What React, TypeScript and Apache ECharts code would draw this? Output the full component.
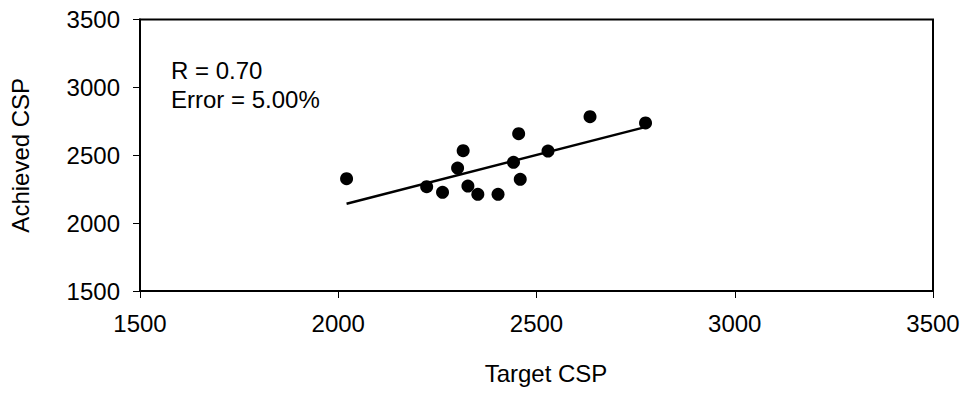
import React, { useEffect, useRef } from "react";
import * as echarts from "echarts";

const targetCSP = [2021, 2223, 2263, 2301, 2315, 2327, 2352, 2403, 2442, 2455, 2459, 2529, 2635, 2775];
const achievedCSP = [2327, 2268, 2227, 2406, 2534, 2273, 2212, 2212, 2448, 2659, 2323, 2531, 2784, 2738];
const trendX = [2021, 2774];
const trendY = [2143, 2707];
const annotations = ["R = 0.70", "Error = 5.00%"];

const FONT = "'Liberation Sans', Arial, sans-serif";

export default function App() {
  const ref = useRef<HTMLDivElement>(null);
  useEffect(() => {
    if (!ref.current) return;
    const chart = echarts.init(ref.current, null, { renderer: "svg" });
    const points = targetCSP.map((x, i) => [x, achievedCSP[i]]);
    const trend = trendX.map((x, i) => [x, trendY[i]]);
    const axisCommon = {
      min: 1500,
      max: 3500,
      interval: 500,
      splitLine: { show: false },
      axisLine: { show: true, onZero: false, lineStyle: { color: "#000", width: 2 } },
      axisTick: { show: true, inside: false, length: 7, lineStyle: { color: "#000", width: 1 } },
      axisLabel: { color: "#000", fontSize: 24, fontFamily: FONT, margin: 20, formatter: (v: number) => String(v) },
      nameTextStyle: { color: "#000", fontSize: 24, fontFamily: FONT },
    };
    chart.setOption({
      animation: false,
      backgroundColor: "#fff",
      grid: {
        left: 140,
        right: 31,
        top: 19.5,
        bottom: 103,
        show: true,
        borderColor: "#000",
        borderWidth: 2,
        backgroundColor: "transparent",
      },
      xAxis: {
        type: "value",
        ...axisCommon,
        name: "Target CSP",
        nameLocation: "middle",
        nameGap: 70,
        nameTextStyle: { ...axisCommon.nameTextStyle, padding: [0, 0, 0, 19] },
      },
      yAxis: {
        type: "value",
        ...axisCommon,
        name: "Achieved CSP",
        nameLocation: "middle",
        nameGap: 108,
      },
      graphic: [
        {
          type: "text",
          left: 171,
          top: 56,
          style: {
            text: annotations.join("\n"),
            fill: "#000",
            fontSize: 24,
            fontFamily: FONT,
            lineHeight: 29,
          },
        },
      ],
      series: [
        {
          type: "line",
          data: trend,
          symbol: "none",
          lineStyle: { color: "#000", width: 2.5 },
          z: 2,
        },
        {
          type: "scatter",
          data: points,
          symbol: "circle",
          symbolSize: 13,
          itemStyle: { color: "#000", opacity: 1 },
          z: 3,
        },
      ],
    });
    return () => chart.dispose();
  }, []);
  return <div ref={ref} style={{ width: 964, height: 394, position: "absolute", left: 0, top: 0 }} />;
}
